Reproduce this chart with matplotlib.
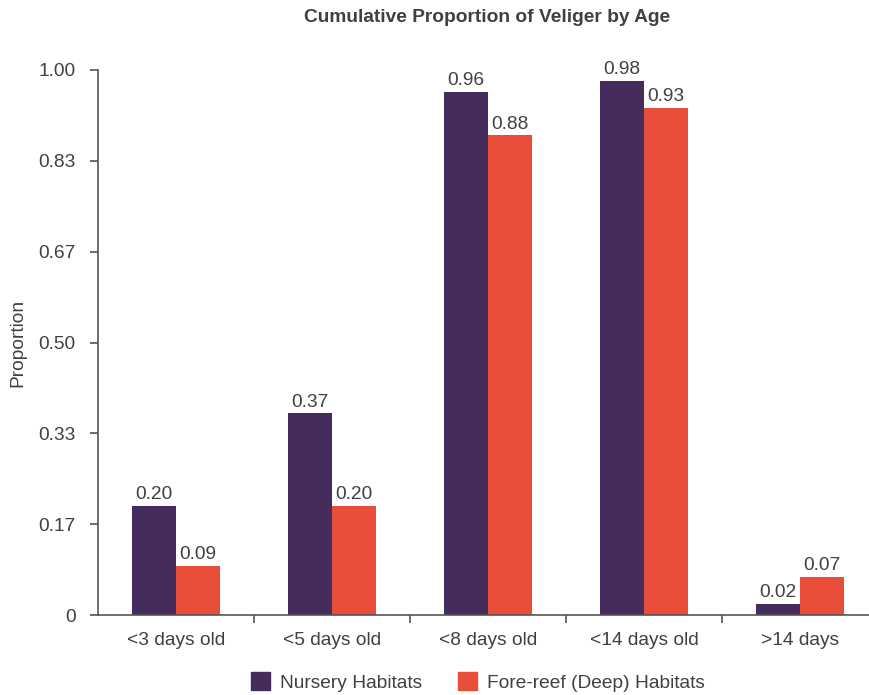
import numpy as np
import matplotlib.pyplot as plt
from matplotlib.patches import Patch

plt.rcParams['font.family'] = ['Liberation Sans', 'DejaVu Sans']

categories = ['<3 days old', '<5 days old', '<8 days old', '<14 days old', '>14 days']
nursery = [0.20, 0.37, 0.96, 0.98, 0.02]
forereef = [0.09, 0.20, 0.88, 0.93, 0.07]
series_names = ['Nursery Habitats', 'Fore-reef (Deep) Habitats']
colors = ['#452c5c', '#e84e3a']
yticks = [0, 1/6, 2/6, 3/6, 4/6, 5/6, 1.0]
ytick_labels = ['0', '0.17', '0.33', '0.50', '0.67', '0.83', '1.00']

txt = '#404040'
axc = '#555555'
fs = 13.8

fig = plt.figure(figsize=(8.7, 6.95), dpi=100)
ax = fig.add_axes([98/870, 80/695, 772/870, 545/695])

x = np.arange(len(categories))
w = 0.285
b1 = ax.bar(x - w/2, nursery, w, color=colors[0])
b2 = ax.bar(x + w/2, forereef, w, color=colors[1])
for bars, vals in [(b1, nursery), (b2, forereef)]:
    for r, v in zip(bars, vals):
        ax.text(r.get_x() + r.get_width()/2, v + 0.005, '%.2f' % v,
                ha='center', va='bottom', fontsize=fs, color=txt)

ax.set_xlim(-0.5, -0.5 + 772/156)
ax.set_ylim(0, 1)
ax.set_yticks(yticks)
ax.set_yticklabels(ytick_labels)
ax.set_xticks(x)
ax.set_xticklabels(categories)
ax.set_xticks(np.arange(len(categories) - 1) + 0.5, minor=True)
ax.tick_params(axis='x', which='major', length=0, pad=12, labelsize=fs, labelcolor=txt)
ax.tick_params(axis='x', which='minor', length=6, color=axc, width=1.2)
ax.tick_params(axis='y', length=6, color=axc, width=1.2, pad=10, labelsize=fs, labelcolor=txt)

for s in ['top', 'right']:
    ax.spines[s].set_visible(False)
for s in ['left', 'bottom']:
    ax.spines[s].set_color(axc)
    ax.spines[s].set_linewidth(1.2)

ax.set_ylabel('Proportion', fontsize=fs, color=txt, labelpad=9)
fig.text(487/870, 1 - 18/695, 'Cumulative Proportion of Veliger by Age', fontsize=13.8,
         fontweight='bold', color=txt, ha='center', va='center')

handles = [Patch(color=c) for c in colors]
fig.legend(handles, series_names, loc='center', bbox_to_anchor=(478/870, 1 - 682/695),
           ncol=2, frameon=False, fontsize=fs, handlelength=1.0, handleheight=1.0,
           handletextpad=0.5, columnspacing=1.9, labelcolor=txt)

fig.savefig('out.png', dpi=100)
